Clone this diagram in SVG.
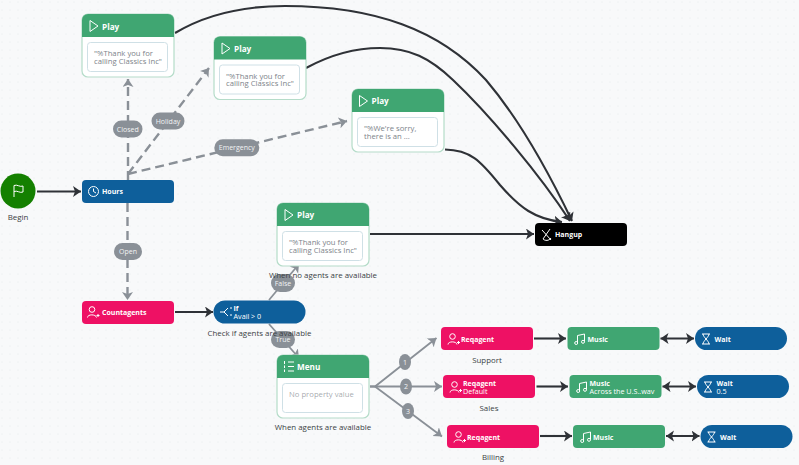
<svg xmlns="http://www.w3.org/2000/svg" width="799" height="465" viewBox="0 0 799 465">
<style>
text{font-family:"Open Sans","Noto Sans","Liberation Sans",sans-serif}
.t{font-size:7px;font-weight:700;fill:#fff}
.s{font-size:7.2px;fill:#fff}
.h{font-size:8.2px;font-weight:700;fill:#fff}
.b{font-size:7.7px;fill:#7d838a}
.l{font-size:7.9px;fill:#3a3f44;text-anchor:middle}
.e{font-size:7px;fill:#f2f3f4;text-anchor:middle}
.d{fill:none;stroke:#8a9097;stroke-width:2.4;stroke-dasharray:9 5}
.g{fill:none;stroke:#8a9097;stroke-width:1.800}
.k{fill:none;stroke:#2f3237;stroke-width:2.100}
.ic{fill:none;stroke:#fff;stroke-width:1}
.card{fill:#fff;stroke:#b5dcc9;stroke-width:1.200}
.hd{fill:#40a672}
.in{fill:#fff;stroke:#cfe0e6;stroke-width:1}
.pk{fill:#ee1164}.gn{fill:#40a672}.bl{fill:#0e5f9b}
.pill{fill:#8a9097}
</style>
<defs>
<pattern id="dots" width="8" height="8" patternUnits="userSpaceOnUse"><rect width="8" height="8" fill="#f8f9fa"/><circle cx="2" cy="2" r=".5" fill="#e4e7ea"/></pattern>
<marker id="ak" markerUnits="userSpaceOnUse" markerWidth="10" markerHeight="12" refX="8" refY="5.500" orient="auto-start-reverse"><path d="M0 0L8 5.500L0 11L2 5.500Z" fill="#2f3237"/></marker>
<marker id="ag" markerUnits="userSpaceOnUse" markerWidth="10" markerHeight="12" refX="8" refY="5.500" orient="auto"><path d="M0 0L8 5.500L0 11L2 5.500Z" fill="#8a9097"/></marker>
<symbol id="play" viewBox="0 0 10 12" overflow="visible"><path class="ic" d="M1 .5L9 6L1 11.500Z" stroke-width="1.200"/></symbol>
<symbol id="agent" viewBox="0 0 12 12" overflow="visible"><circle class="ic" cx="5" cy="3.500" r="2.800"/><path class="ic" d="M.5 11.500C.5 8 9 8 9.500 11.500M9.500 9.500h3M11 8v3"/></symbol>
<symbol id="music" viewBox="0 0 12 12" overflow="visible"><path class="ic" d="M3.500 10V2.500L10.500 1V8.500"/><circle class="ic" cx="2.200" cy="10" r="1.500"/><circle class="ic" cx="9" cy="8.800" r="1.500"/></symbol>
<symbol id="wait" viewBox="0 0 10 12" overflow="visible"><path class="ic" d="M1 1H9M1 11H9M2 1C2 4 8 8 8 11M8 1C8 4 2 8 2 11"/></symbol>
</defs>
<rect width="799" height="465" fill="url(#dots)"/>
<g id="connectors">
<path class="k" d="M175 33C205 15 240 6 285 6C375 6 440 30 486 80C520 120 550 175 572 221" marker-end="url(#ak)"/>
<path class="k" d="M306 68C330 55 355 48 380 48C410 48 430 58 453 80C490 115 540 175 570 221" marker-end="url(#ak)"/>
<path class="k" d="M445 149.500C470 150 480 160 500 185C520 208 535 219 562 222" marker-end="url(#ak)"/>
<path class="k" d="M370 234H534" marker-end="url(#ak)"/>
<path class="k" d="M37 191.500H81" marker-end="url(#ak)"/>
<path class="k" d="M175 312H213" marker-end="url(#ak)"/>
<path class="d" d="M128 180V79" marker-end="url(#ag)"/>
<path class="d" d="M128 174L209 68" marker-end="url(#ag)"/>
<path class="d" d="M128 174L347 121" marker-end="url(#ag)"/>
<path class="d" d="M127.500 203V300" marker-end="url(#ag)"/>
<path class="g" d="M269 300L299 264" marker-end="url(#ag)"/>
<path class="g" d="M269 324L299 358" marker-end="url(#ag)"/>
<path class="g" d="M370 386.500H375L436.500 338" marker-end="url(#ag)"/>
<path class="g" d="M370 386.500H442" marker-end="url(#ag)"/>
<path class="g" d="M375 386.500L442 436.500" marker-end="url(#ag)"/>
<path class="k" d="M534 338.500H566" marker-end="url(#ak)"/>
<path class="k" d="M660.500 338.500H694" marker-start="url(#ak)" marker-end="url(#ak)"/>
<path class="k" d="M536.500 386.500H568" marker-end="url(#ak)"/>
<path class="k" d="M662.500 386.500H696" marker-start="url(#ak)" marker-end="url(#ak)"/>
<path class="k" d="M540 436H572" marker-end="url(#ak)"/>
<path class="k" d="M666 436H699.500" marker-start="url(#ak)" marker-end="url(#ak)"/>
</g>
<g id="edge-labels">
<rect class="pill" x="113" y="120.500" width="29.500" height="17" rx="8.500"/><text class="e" x="127.800" y="131.500">Closed</text>
<rect class="pill" x="151.500" y="112.500" width="33" height="17" rx="8.500"/><text class="e" x="168" y="123.500">Holiday</text>
<rect class="pill" x="214.300" y="139.300" width="45" height="17" rx="8.500"/><text class="e" x="236.800" y="150">Emergency</text>
<rect class="pill" x="114" y="243" width="28" height="17" rx="8.500"/><text class="e" x="128" y="254">Open</text>
<rect class="pill" x="271" y="274" width="24" height="18" rx="9"/><text class="e" x="283" y="285.500">False</text>
<rect class="pill" x="271" y="331" width="24" height="17" rx="8.500"/><text class="e" x="283" y="341.500">True</text>
<ellipse class="pill" cx="405" cy="362" rx="6" ry="8"/><text class="e" x="405" y="364.500">1</text>
<ellipse class="pill" cx="406" cy="386.500" rx="6" ry="8"/><text class="e" x="406" y="389">2</text>
<ellipse class="pill" cx="408" cy="411" rx="6" ry="8"/><text class="e" x="408" y="413.500">3</text>
</g>
<g id="begin"><circle cx="18" cy="191" r="17.500" fill="#148000"/><path class="ic" d="M14 197V185.500C17 184 20 187.500 23 186V192C20 193.500 17 190 14 191.500"/><text class="l" x="18" y="220">Begin</text></g>
<g id="hours"><rect class="bl" x="82" y="180" width="92" height="23" rx="4"/><circle class="ic" cx="93.500" cy="191.500" r="5"/><path class="ic" d="M93.500 188.500V191.500L96 193"/><text class="t" x="102" y="194">Hours</text></g>
<g id="play1"><rect class="card" x="82" y="14" width="92" height="63" rx="6"/><path class="hd" d="M82 37V20a6 6 0 0 1 6-6h80a6 6 0 0 1 6 6v17Z"/><use href="#play" x="89" y="20" width="10" height="12"/><text class="h" x="102" y="29.500">Play</text><rect class="in" x="87.500" y="42.500" width="80" height="29" rx="3"/><text class="b" x="94" y="56">"%Thank you for</text><text class="b" x="94" y="63.500">calling Classics Inc"</text></g>
<g id="play2"><rect class="card" x="214" y="36.500" width="92" height="63" rx="6"/><path class="hd" d="M214 59.500V42.500a6 6 0 0 1 6-6h80a6 6 0 0 1 6 6v17Z"/><use href="#play" x="221" y="42.500" width="10" height="12"/><text class="h" x="234" y="51.500">Play</text><rect class="in" x="219.500" y="65" width="80" height="29" rx="3"/><text class="b" x="226" y="78.500">"%Thank you for</text><text class="b" x="226" y="86">calling Classics Inc"</text></g>
<g id="play3"><rect class="card" x="352" y="89" width="92" height="63" rx="6"/><path class="hd" d="M352 112V95a6 6 0 0 1 6-6h80a6 6 0 0 1 6 6v17Z"/><use href="#play" x="358.500" y="95" width="10" height="12"/><text class="h" x="371.500" y="104">Play</text><rect class="in" x="357.500" y="117.500" width="80" height="29" rx="3"/><text class="b" x="364" y="131">"%We're sorry,</text><text class="b" x="364" y="138.500">there is an ...</text></g>
<g id="play4"><rect class="card" x="277" y="203" width="92" height="63" rx="6"/><path class="hd" d="M277 226V209a6 6 0 0 1 6-6h80a6 6 0 0 1 6 6v17Z"/><use href="#play" x="284" y="209" width="10" height="12"/><text class="h" x="297" y="218">Play</text><rect class="in" x="282.500" y="231.500" width="80" height="29" rx="3"/><text class="b" x="289" y="245">"%Thank you for</text><text class="b" x="289" y="252.500">calling Classics Inc"</text><text class="l" x="323" y="278">When no agents are available</text></g>
<g id="countagents"><rect class="pk" x="82" y="301" width="92" height="23" rx="4"/><use href="#agent" x="87" y="306" width="12" height="12"/><text class="t" x="102" y="315">Countagents</text></g>
<g id="if"><rect class="bl" x="213.500" y="300.500" width="92" height="23" rx="11.500"/><path class="ic" d="M220 312H224L228 308M224 312L228 316M230 308h2M230 315h2"/><text class="t" x="233.500" y="311">If</text><text class="s" x="233.500" y="318.500">Avail &gt; 0</text><text class="l" x="259.500" y="336">Check if agents are available</text></g>
<g id="menu"><rect class="card" x="277" y="355" width="92" height="63" rx="6"/><path class="hd" d="M277 378V361a6 6 0 0 1 6-6h80a6 6 0 0 1 6 6v17Z"/><path class="ic" d="M288 362H294M288 366.500H294M288 371H294M284.500 361V364M284.500 365.500V368M284.500 369.500V372"/><text class="h" x="297" y="370">Menu</text><rect class="in" x="282.500" y="383.500" width="80" height="29" rx="3"/><text class="b" x="289" y="397" fill-opacity=".7">No property value</text><text class="l" x="323" y="429.500">When agents are available</text></g>
<g id="hangup"><rect x="535" y="223" width="92" height="23" rx="4" fill="#000"/><path class="ic" d="M542 230L551 240M550 229L543 239C545 241 549 241 551 238"/><text class="t" x="555" y="237">Hangup</text></g>
<g id="req1"><rect class="pk" x="441" y="327" width="92" height="23" rx="4"/><use href="#agent" x="447.500" y="333" width="12" height="12"/><text class="t" x="461" y="341.500">Reqagent</text><text class="l" x="487" y="362.500">Support</text></g>
<g id="music1"><rect class="gn" x="567.500" y="327" width="92" height="23" rx="4"/><use href="#music" x="574" y="333" width="12" height="12"/><text class="t" x="587.500" y="341.500">Music</text></g>
<g id="wait1"><rect class="bl" x="695" y="327" width="92" height="23" rx="11.500"/><use href="#wait" x="701" y="333" width="10" height="12"/><text class="t" x="714.500" y="341.500">Wait</text></g>
<g id="req2"><rect class="pk" x="443" y="375" width="92" height="23" rx="4"/><use href="#agent" x="449.500" y="381" width="12" height="12"/><text class="t" x="463" y="386">Reqagent</text><text class="s" x="463" y="393.500">Default</text><text class="l" x="489" y="410.500">Sales</text></g>
<g id="music2"><rect class="gn" x="569.500" y="375" width="92" height="23" rx="4"/><use href="#music" x="576" y="381" width="12" height="12"/><text class="t" x="589.500" y="386">Music</text><text class="s" x="589.500" y="393.500">Across the U.S..wav</text></g>
<g id="wait2"><rect class="bl" x="697" y="375" width="92" height="23" rx="11.500"/><use href="#wait" x="703" y="381" width="10" height="12"/><text class="t" x="716.500" y="386">Wait</text><text class="s" x="716.500" y="393.500">0.5</text></g>
<g id="req3"><rect class="pk" x="447" y="425" width="92" height="23" rx="4"/><use href="#agent" x="453.500" y="431" width="12" height="12"/><text class="t" x="467" y="439.500">Reqagent</text><text class="l" x="493" y="460">Billing</text></g>
<g id="music3"><rect class="gn" x="573" y="425" width="92" height="23" rx="4"/><use href="#music" x="580" y="431" width="12" height="12"/><text class="t" x="593" y="439.500">Music</text></g>
<g id="wait3"><rect class="bl" x="700.500" y="425" width="92" height="23" rx="11.500"/><use href="#wait" x="706.500" y="431" width="10" height="12"/><text class="t" x="720" y="439.500">Wait</text></g>
</svg>
